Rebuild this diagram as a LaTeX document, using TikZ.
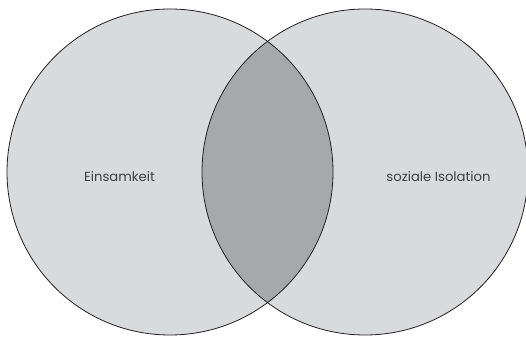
\documentclass[tikz,border=0pt]{standalone}
\usepackage{fontspec}
\setmainfont{Poppins}
\definecolor{setgray}{HTML}{D9DADB}
\definecolor{overlapgray}{HTML}{A7A8AA}
\definecolor{rimblack}{HTML}{231F20}
\definecolor{labelgray}{HTML}{404040}
\tikzset{
  setcircle/.style={draw=rimblack, line width=0.8pt, fill=setgray},
  setlabel/.style={text=labelgray, font=\fontsize{13.2}{15}\selectfont, inner sep=0pt}
}
\begin{document}
\begin{tikzpicture}[x=1pt,y=1pt]

    \useasboundingbox (0,0) rectangle (526,337);

    \coordinate (L) at (170,165);
    \coordinate (R) at (365,165);

    \fill[setgray] (L) circle (163);
    \fill[setgray] (R) circle (163);

    %overlap
    \begin{scope}
    \clip (L) circle (163);
    \fill[overlapgray] (R) circle (163);
    \end{scope}

    \draw[rimblack, line width=0.8pt] (L) circle (163);
    \draw[rimblack, line width=0.8pt] (R) circle (163);

    \node[setlabel, anchor=base] (einsam) at (119.5,155) {Einsamkeit};
    \node[setlabel, anchor=base] (isolation) at (438.5,155) {soziale Isolation};

\end{tikzpicture}
\end{document}
